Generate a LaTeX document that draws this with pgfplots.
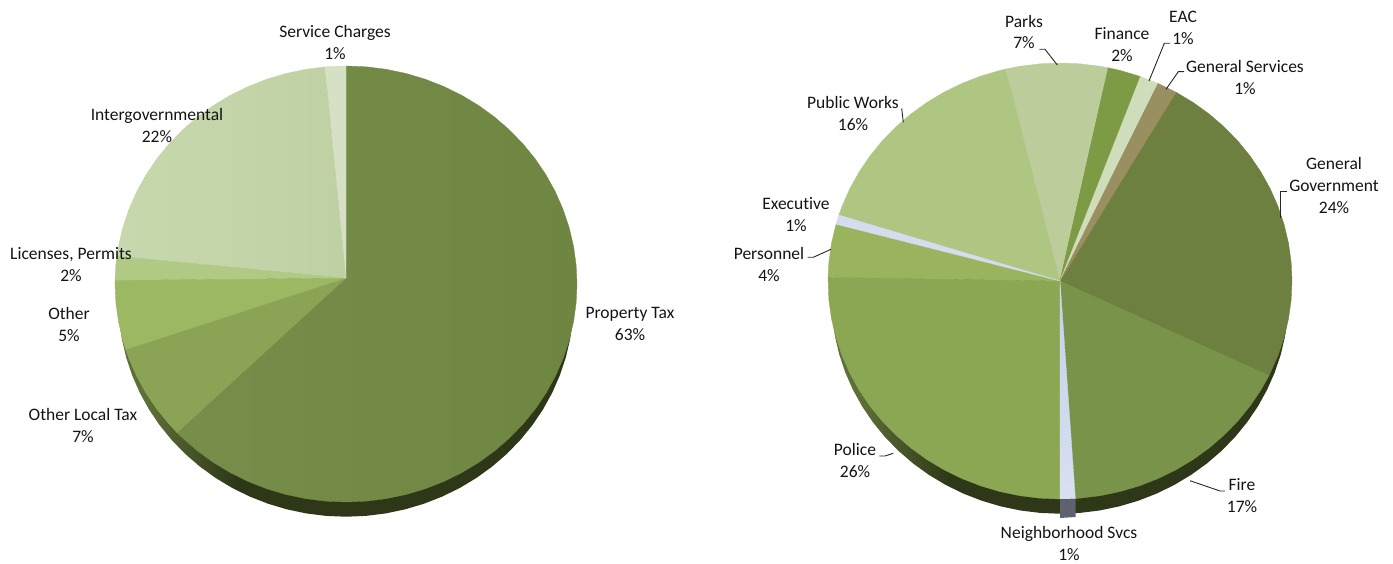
\documentclass[border=0pt]{standalone}
\usepackage{fontspec}
\setmainfont[Ligatures=NoCommon]{Carlito}
\usepackage{pgfplots}
\pgfplotsset{compat=1.18}

% colours
\definecolor{ptaxA}{HTML}{768E49}\definecolor{ptaxB}{HTML}{6F8642}
\definecolor{oltax}{HTML}{8AA355}
\definecolor{oth}{HTML}{9CB863}
\definecolor{lic}{HTML}{B0C983}
\definecolor{igA}{HTML}{C8D8AE}\definecolor{igB}{HTML}{BFD1A3}
\definecolor{svc}{HTML}{D5E0C5}
\definecolor{ggov}{HTML}{6D8040}
\definecolor{fire}{HTML}{7A934A}
\definecolor{nbhA}{HTML}{C4D1EC}\definecolor{nbhB}{HTML}{D8E0F0}
\definecolor{police}{HTML}{8CA754}
\definecolor{pers}{HTML}{9AB45D}
\definecolor{exec}{HTML}{D3DDEE}
\definecolor{pw}{HTML}{AEC681}
\definecolor{parks}{HTML}{BCCC9B}
\definecolor{fin}{HTML}{7C9B44}
\definecolor{eac}{HTML}{CFDDBB}
\definecolor{gsvc}{HTML}{998F60}
\definecolor{bandL}{HTML}{5E7038}
\definecolor{bandD}{HTML}{2E3717}
\definecolor{nbhside}{HTML}{5E6170}
\pgfdeclarehorizontalshading{band}{100bp}{color(0bp)=(bandL); color(28bp)=(bandL); color(38bp)=(bandD); color(100bp)=(bandD)}

\pgfplotsset{pie/.style={hide axis,scale only axis,clip=false,
  xmin=-120,xmax=120,ymin=-120,ymax=120,height=523.2pt}}
\newcommand{\slice}[3]{\addplot[#1,draw=#2,line width=0.35pt,data cs=polar] coordinates {#3} -- cycle;}
\newcommand{\rim}{(0,98.5)(15,98.5)(30,98.5)(45,98.5)(60,98.5)(75,98.5)(90,98.5)(105,98.5)(120,98.5)(135,98.5)(150,98.5)(165,98.5)(180,98.5)(185,98.5)(190,98.5)(195,98.5)(200,98.5)(205,98.5)(210,98.5)(215,98.5)(220,98.5)(225,98.5)(230,98.5)(235,98.5)(240,98.5)(245,98.5)(250,98.5)(255,98.5)(260,98.5)(265,98.5)(270,98.5)(275,98.5)(280,98.5)(285,98.5)(290,98.5)(295,98.5)(300,98.5)(305,98.5)(310,98.5)(315,98.5)(320,98.5)(325,98.5)(330,98.5)(335,98.5)(340,98.5)(345,98.5)(350,98.5)(355,98.5)}
\newcommand{\lab}[3]{\node[align=center,inner sep=0pt,text=black!92,font=\fontsize{17.5}{22}\selectfont] at (axis cs:#1,#2) {#3};}

\begin{document}
\begin{tikzpicture}
\path[use as bounding box] (0,0) rectangle (1393pt,564pt);

% revenue pie
\begin{axis}[pie,width=554.4pt,at={(346pt,280pt)},anchor=center]
\addplot[shade,shading=band,draw=none,yshift=-18pt,data cs=polar] coordinates {\rim} -- cycle;
\slice{left color=ptaxA,right color=ptaxB}{ptaxA!50!ptaxB}{(90,2.75)(90,100)(85,100)(80,100)(75,100)(70,100)(65,100)(60,100)(55,100)(50,100)(45,100)(40,100)(35,100)(30,100)(25,100)(20,100)(15,100)(10,100)(5,100)(0,100)(355,100)(350,100)(345,100)(340,100)(335,100)(330,100)(325,100)(320,100)(315,100)(310,100)(305,100)(300,100)(295,100)(290,100)(285,100)(280,100)(275,100)(270,100)(265,100)(260,100)(255,100)(250,100)(245,100)(240,100)(235,100)(230,100)(225,100)(223,100)}
\slice{fill=oltax}{oltax}{(90,2.75)(223,100)(220,100)(215,100)(210,100)(205,100)(200,100)(197.5,100)}
\slice{fill=oth}{oth}{(90,2.75)(197.5,100)(195,100)(190,100)(185,100)(180,100)(179,100)}
\slice{fill=lic}{lic}{(90,2.75)(179,100)(175,100)(172.6,100)}
\slice{left color=igA,right color=igB}{igA!50!igB}{(90,2.75)(172.6,100)(170,100)(165,100)(160,100)(155,100)(150,100)(145,100)(140,100)(135,100)(130,100)(125,100)(120,100)(115,100)(110,100)(105,100)(100,100)(95.2,100)}
\slice{fill=svc}{svc}{(90,2.75)(95.2,100)(92.5,100)(90,100)}
\end{axis}

% expenditure pie
\begin{axis}[pie,width=556.8pt,at={(1060pt,283pt)},anchor=center]
\addplot[shade,shading=band,draw=none,yshift=-18pt,data cs=polar] coordinates {\rim} -- cycle;
\slice{fill=ggov}{ggov}{(0,0)(60,100)(55,100)(50,100)(45,100)(40,100)(35,100)(30,100)(25,100)(20,100)(15,100)(10,100)(5,100)(0,100)(355,100)(350,100)(345,100)(340,100)(334.3,100)}
\slice{fill=fire}{fire}{(0,0)(334.3,100)(330,100)(325,100)(320,100)(315,100)(310,100)(305,100)(300,100)(295,100)(290,100)(285,100)(280,100)(275,100)(273.8,100)}
\slice{fill=police}{police}{(0,0)(270,100)(265,100)(260,100)(255,100)(250,100)(245,100)(240,100)(235,100)(230,100)(225,100)(220,100)(215,100)(210,100)(205,100)(200,100)(195,100)(190,100)(185,100)(179,100)}
\slice{bottom color=nbhB,top color=nbhA}{nbhB}{(0,0)(273.8,100)(272,100)(270,100)}
\slice{fill=pers}{pers}{(0,0)(179,100)(175,100)(170,100)(164.9,100)}
\slice{fill=pw}{pw}{(0,0)(162.4,100)(160,100)(155,100)(150,100)(145,100)(140,100)(135,100)(130,100)(125,100)(120,100)(115,100)(110,100)(105,100)(103.5,100)}
\slice{fill=exec}{exec}{(0,0)(164.9,100)(162.4,100)}
\slice{fill=parks}{parks}{(0,0)(103.5,100)(100,100)(95,100)(90,100)(85,100)(80,100)(78,100)}
\slice{fill=fin}{fin}{(0,0)(78,100)(75,100)(69.7,100)}
\slice{fill=eac}{eac}{(0,0)(69.7,100)(65,100)}
\slice{fill=gsvc}{gsvc}{(0,0)(65,100)(60,100)}
\end{axis}

% labels and leader lines, in picture pixels
\begin{axis}[hide axis,scale only axis,clip=false,width=1393pt,height=564pt,
  at={(0pt,0pt)},anchor=south west,xmin=0,xmax=1393,ymin=0,ymax=564,y dir=reverse]
\addplot[fill=nbhside,draw=none] coordinates {(1060,499.5)(1075.5,499)(1075.5,517)(1060,518)} -- cycle;
\addplot[black!85,line width=0.9pt] coordinates {(1039.3,49.3)(1045,49.3)(1057.3,65)};
\addplot[black!85,line width=0.9pt] coordinates {(1170,43.3)(1164.3,43.3)(1149,81)};
\addplot[black!85,line width=0.9pt] coordinates {(1184,71.7)(1178.3,71.7)(1166,89.3)};
\addplot[black!85,line width=0.9pt] coordinates {(1286.7,191)(1280.7,191)(1280.7,217.7)};
\addplot[black!85,line width=0.9pt] coordinates {(1225,491)(1220,491)(1190,480.7)};
\addplot[black!85,line width=0.9pt] coordinates {(879.3,456)(885,456)(893.3,453.3)};
\addplot[black!85,line width=0.9pt] coordinates {(807.7,257.3)(813.3,257.3)(831,249.3)};
\addplot[black!85,line width=0.9pt] coordinates {(901.7,108.3)(903.3,122.3)};
\lab{335}{42}{Service Charges\\1\%}
\lab{157}{125}{Intergovernmental\\22\%}
\lab{71}{265}{Licenses, Permits\\2\%}
\lab{69}{324}{Other\\5\%}
\lab{83}{425}{Other Local Tax\\7\%}
\lab{630}{324}{Property Tax\\63\%}
\lab{1024}{32}{Parks\\7\%}
\lab{1122}{45}{Finance\\2\%}
\lab{1183}{28}{EAC\\1\%}
\lab{1245}{77}{General Services\\1\%}
\lab{1334}{185.5}{General\\Government\\24\%}
\lab{853}{113}{Public Works\\16\%}
\lab{796}{215}{Executive\\1\%}
\lab{769}{264}{Personnel\\4\%}
\lab{855}{460}{Police\\26\%}
\lab{1242}{496}{Fire\\17\%}
\lab{1069}{543.5}{Neighborhood Svcs\\1\%}
\end{axis}
\end{tikzpicture}
\end{document}
